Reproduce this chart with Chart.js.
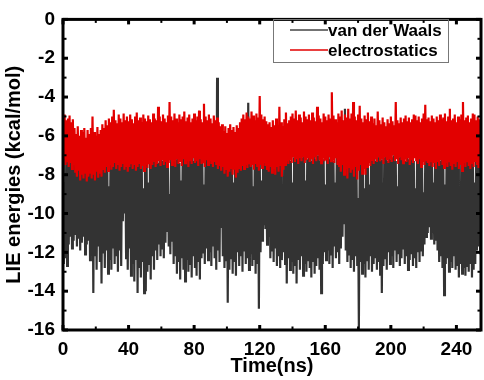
<!DOCTYPE html>
<html>
<head>
  <title>LIE energies vs time</title>
  <meta charset="utf-8" />
  <script src="https://cdn.jsdelivr.net/npm/chart.js"></script>
  <style>
    body { margin: 0; background: #fff; }
    #wrap { width: 484px; height: 380px; }
  </style>
</head>
<body>
  <div id="wrap"><canvas id="lieChart"></canvas></div>

  <script>
    const seriesLabels = ['van der Waals', 'electrostatics'];
    const xTickValues = [0, 40, 80, 120, 160, 200, 240];
    const xMinorValues = [20, 60, 100, 140, 180, 220];
    const yTickValues = [0, -2, -4, -6, -8, -10, -12, -14, -16];
    const yMinorValues = [-1, -3, -5, -7, -9, -11, -13, -15];

    // per-ns upper / lower excursions (kcal/mol)
    const vdwHi = [
      -7.1,-8.4,-7.0,-7.3,-6.9,-7.2,-7.5,-7.0,-7.4,-6.8,-7.3,-7.1,-7.6,-7.0,-7.2,-7.4,
      -6.9,-7.3,-7.1,-7.5,-7.0,-7.2,-6.8,-7.4,-7.1,-7.3,-7.0,-7.2,-8.6,-7.1,-6.9,-7.3,
      -7.0,-7.2,-7.4,-6.9,-7.1,-7.3,-7.0,-7.5,-7.2,-6.8,-7.1,-7.3,-7.0,-7.2,-7.4,-7.1,
      -7.0,-8.7,-7.2,-7.1,-8.4,-7.0,-7.3,-6.9,-7.2,-7.0,-7.4,-7.1,-6.9,-7.3,-7.0,-7.2,
      -7.1,-9.0,-7.0,-7.3,-6.9,-7.2,-7.0,-7.4,-8.3,-7.1,-7.0,-7.3,-6.9,-7.2,-7.1,-7.0,
      -7.3,-7.0,-7.2,-6.9,-7.1,-7.4,-8.5,-7.0,-7.2,-7.1,-6.9,-7.3,-7.0,-7.2,-3.0,-7.1,
      -7.3,-7.0,-7.2,-7.4,-7.1,-6.9,-7.3,-7.0,-8.4,-7.2,-7.1,-7.3,-7.0,-6.9,-7.2,-7.1,
      -7.0,-4.3,-7.2,-7.1,-8.6,-7.0,-7.3,-6.9,-7.1,-8.3,-7.0,-7.2,-7.4,-7.1,-7.0,-7.3,
      -7.1,-7.4,-7.0,-7.2,-7.3,-7.0,-8.8,-7.1,-6.9,-7.2,-7.0,-7.3,-8.4,-7.1,-6.9,-7.2,
      -7.0,-7.3,-7.1,-6.9,-8.3,-7.2,-7.0,-7.1,-7.3,-6.9,-7.2,-7.0,-7.1,-7.3,-7.0,-7.2,
      -8.5,-7.1,-7.0,-7.2,-6.9,-7.3,-8.4,-7.1,-7.0,-7.2,-7.3,-7.0,-4.6,-7.1,-7.2,-7.0,
      -7.3,-7.1,-7.0,-7.2,-9.2,-7.1,-7.0,-7.3,-8.7,-7.1,-7.0,-8.5,-7.2,-7.1,-7.0,-7.3,
      -7.1,-7.0,-7.2,-8.4,-7.1,-6.9,-7.3,-7.0,-7.2,-7.1,-7.0,-7.3,-8.6,-7.1,-7.0,-7.2,
      -7.1,-7.3,-7.0,-7.2,-6.9,-7.1,-7.3,-8.7,-7.0,-7.2,-7.1,-7.0,-8.9,-7.2,-7.1,-7.0,
      -7.3,-7.1,-8.4,-7.0,-7.2,-7.1,-7.3,-7.0,-7.2,-8.5,-7.1,-7.0,-7.3,-7.1,-7.2,-7.0,
      -7.1,-7.3,-8.6,-7.0,-7.2,-7.1,-7.3,-7.0,-7.2,-7.1,-7.0,-8.4,-7.2,-7.1,-7.3,-7.0
    ];
    const vdwLo = [
      -12.6,-12.3,-12.7,-11.6,-11.2,-11.8,-11.4,-11.1,-11.7,-11.3,-11.9,-11.5,-11.2,-12.1,-11.6,-11.4,
      -12.4,-11.8,-14.1,-12.2,-12.9,-11.7,-12.5,-13.6,-12.0,-12.8,-11.9,-13.1,-12.4,-12.9,-11.8,-12.6,
      -12.2,-13.0,-11.9,-12.7,-10.4,-10.0,-12.3,-12.9,-11.8,-13.2,-12.6,-13.5,-12.4,-14.1,-12.8,-13.3,
      -12.5,-14.1,-14.0,-13.0,-12.6,-13.4,-12.2,-12.9,-11.9,-12.4,-11.6,-12.2,-11.8,-12.3,-11.5,-10.9,
      -11.7,-12.1,-11.4,-12.6,-12.2,-13.1,-12.5,-13.4,-12.3,-12.9,-13.5,-12.4,-13.0,-12.6,-13.3,-12.2,
      -12.8,-13.2,-12.5,-13.4,-12.3,-12.0,-12.6,-11.8,-12.4,-12.0,-12.7,-11.7,-12.3,-12.9,-11.9,-12.5,
      -10.75,-12.2,-12.8,-12.4,-14.6,-12.9,-12.3,-13.1,-12.5,-13.2,-12.0,-12.7,-12.2,-13.0,-11.9,-12.6,
      -12.3,-12.9,-12.1,-12.7,-12.4,-13.1,-12.6,-14.9,-12.0,-11.4,-10.6,-10.8,-11.6,-11.2,-12.3,-11.9,
      -12.5,-11.8,-12.7,-12.2,-12.8,-12.4,-12.0,-12.6,-13.6,-12.3,-12.9,-12.5,-13.1,-12.7,-13.6,-12.4,
      -12.9,-12.2,-13.2,-12.6,-13.0,-12.4,-12.8,-13.3,-12.5,-13.1,-12.7,-12.3,-12.9,-14.1,-12.6,-12.0,
      -12.4,-11.9,-12.6,-12.1,-12.8,-11.7,-12.3,-12.0,-12.6,-11.8,-11.2,-10.5,-11.9,-12.5,-12.1,-12.8,
      -12.4,-13.0,-12.2,-12.7,-16.0,-12.5,-13.1,-12.6,-13.3,-12.4,-12.9,-12.2,-13.0,-12.6,-12.3,-12.9,
      -12.5,-13.2,-14.1,-12.7,-12.3,-12.9,-12.0,-12.6,-12.2,-12.8,-11.9,-12.5,-12.1,-12.7,-12.3,-11.8,
      -12.6,-12.2,-12.9,-12.4,-12.1,-12.7,-12.3,-12.8,-12.0,-12.5,-11.9,-12.2,-11.6,-11.2,-11.0,-10.7,
      -11.3,-11.0,-11.6,-11.4,-11.9,-12.5,-12.2,-12.8,-14.2,-12.6,-12.3,-13.0,-12.5,-12.8,-12.2,-12.9,
      -12.7,-13.3,-12.6,-13.1,-12.8,-13.2,-12.7,-13.0,-12.6,-13.3,-12.9,-12.6,-11.9,-11.7,-12.1,-11.8
    ];
    const elecHi = [
      -5.0,-4.9,-5.2,-5.1,-4.95,-5.3,-5.15,-5.6,-5.9,-5.5,-6.0,-5.7,-5.8,-5.6,-6.1,-5.7,
      -5.9,-5.6,-5.0,-5.8,-6.0,-5.55,-5.9,-5.7,-5.4,-5.6,-5.2,-5.45,-5.1,-5.3,-5.0,-4.65,
      -5.2,-5.35,-4.9,-5.1,-5.3,-4.85,-5.2,-5.0,-5.25,-4.9,-5.15,-5.35,-5.0,-4.8,-5.2,-5.05,
      -5.3,-4.9,-5.1,-5.25,-4.95,-5.15,-5.3,-4.85,-5.1,-5.2,-4.5,-5.0,-5.25,-4.9,-5.1,-5.3,
      -4.95,-4.25,-5.0,-5.2,-4.85,-5.1,-5.3,-4.9,-5.15,-5.0,-4.75,-5.25,-5.05,-4.9,-5.3,-5.1,
      -4.85,-5.2,-5.0,-4.7,-5.15,-5.3,-4.35,-5.0,-5.2,-4.9,-5.1,-5.35,-4.95,-5.2,-5.05,-5.3,
      -5.5,-5.4,-5.75,-5.5,-5.85,-5.6,-5.4,-5.7,-5.55,-5.8,-5.45,-5.6,-5.3,-5.1,-4.9,-5.15,
      -4.8,-5.0,-5.1,-4.75,-4.95,-5.2,-4.85,-5.05,-3.95,-4.9,-5.15,-5.0,-5.25,-5.4,-5.3,-5.55,
      -5.2,-5.45,-5.1,-5.6,-4.5,-5.3,-5.5,-5.15,-4.8,-5.35,-5.2,-5.0,-4.85,-5.1,-4.7,-5.2,
      -4.9,-5.05,-5.3,-4.75,-5.0,-5.15,-4.9,-5.2,-4.8,-5.05,-5.25,-4.5,-4.95,-5.1,-5.3,-4.85,
      -5.0,-5.2,-4.9,-5.1,-3.75,-4.95,-5.15,-5.3,-4.85,-5.0,-4.7,-5.2,-4.9,-5.05,-4.6,-5.1,
      -4.85,-4.25,-5.0,-5.2,-4.9,-4.45,-5.1,-5.3,-4.95,-5.15,-4.8,-5.25,-5.0,-5.35,-5.1,-5.45,
      -4.75,-5.2,-5.4,-5.05,-5.3,-5.5,-5.15,-5.35,-5.0,-5.25,-5.45,-4.25,-5.2,-5.35,-5.05,-5.3,
      -5.1,-4.95,-5.25,-5.05,-5.3,-5.15,-4.9,-4.95,-5.2,-5.0,-5.3,-5.1,-4.85,-4.4,-5.15,-5.05,
      -5.25,-4.95,-5.1,-5.3,-5.0,-5.2,-4.9,-5.15,-5.05,-4.85,-5.25,-5.0,-4.6,-5.2,-5.1,-4.9,
      -5.3,-5.0,-5.15,-4.9,-4.25,-5.2,-5.05,-4.95,-5.3,-5.1,-4.85,-4.9,-5.2,-5.0,-5.15,-5.05
    ];
    const elecLo = [
      -7.2,-7.5,-7.3,-7.6,-7.4,-7.7,-7.5,-7.9,-8.1,-7.8,-8.3,-8.0,-8.2,-7.9,-8.35,-8.1,
      -7.9,-8.2,-8.0,-8.3,-7.85,-8.15,-7.95,-8.1,-7.7,-7.9,-7.6,-7.8,-7.5,-7.75,-7.6,-7.4,
      -7.7,-7.5,-7.8,-7.6,-7.45,-7.75,-7.55,-7.85,-7.6,-7.4,-7.7,-7.5,-7.8,-7.6,-7.45,-7.7,
      -7.55,-7.8,-7.5,-7.65,-7.4,-7.7,-7.5,-7.35,-7.6,-7.45,-7.3,-7.55,-7.2,-7.5,-7.35,-7.6,
      -7.4,-7.25,-7.5,-7.3,-7.6,-7.2,-7.45,-7.35,-7.55,-7.2,-7.4,-7.3,-7.6,-7.25,-7.45,-7.15,
      -7.4,-7.3,-7.55,-7.2,-7.45,-7.35,-7.6,-7.25,-7.5,-7.3,-7.45,-7.6,-7.35,-7.5,-7.7,-7.55,
      -7.8,-7.6,-7.95,-7.7,-8.1,-7.85,-7.65,-8.0,-7.75,-8.15,-7.9,-7.7,-7.8,-7.55,-7.7,-7.5,
      -7.65,-7.4,-7.6,-7.5,-7.75,-7.45,-7.6,-7.8,-7.5,-7.65,-7.4,-7.55,-7.7,-7.85,-7.6,-7.9,
      -7.7,-8.0,-7.6,-7.85,-7.55,-8.1,-7.75,-7.5,-7.3,-7.45,-7.2,-7.4,-7.1,-7.35,-7.2,-7.45,
      -7.15,-7.3,-7.05,-7.4,-7.25,-7.1,-7.35,-7.2,-7.45,-7.1,-7.3,-7.0,-7.25,-7.4,-7.15,-7.3,
      -7.2,-7.45,-7.1,-7.3,-7.25,-7.4,-7.15,-7.5,-7.6,-7.85,-7.5,-8.0,-7.7,-8.2,-7.6,-7.9,
      -7.75,-8.1,-7.6,-8.25,-7.8,-7.5,-7.95,-7.7,-8.0,-7.6,-7.4,-7.55,-7.3,-7.45,-7.2,-7.35,
      -7.1,-7.3,-7.2,-7.45,-7.05,-7.25,-7.4,-7.15,-7.35,-7.0,-7.3,-7.2,-7.45,-7.1,-7.25,-7.4,
      -7.2,-7.35,-7.1,-7.5,-7.25,-7.4,-7.15,-7.3,-7.45,-7.2,-7.6,-7.35,-7.5,-7.25,-7.4,-7.55,
      -7.3,-7.6,-7.4,-7.7,-7.35,-7.55,-7.25,-7.5,-7.65,-7.4,-7.6,-7.3,-7.55,-7.75,-7.45,-7.6,
      -7.35,-7.7,-7.5,-7.8,-7.4,-7.6,-7.3,-7.55,-7.7,-7.45,-7.6,-7.35,-7.5,-7.65,-7.4,-7.55
    ];

    // trace goes up to the high value, then down to the low one, every ns
    function zigzag(hi, lo) {
      const pts = [];
      hi.forEach((h, i) => {
        pts.push({ x: i, y: h });
        pts.push({ x: i + 0.5, y: lo[i] });
      });
      return pts;
    }

    const FONT = '"Liberation Sans", Arial, sans-serif';

    // thick frame with inward ticks on all four sides
    const framePlugin = {
      id: 'frame',
      afterDatasetsDraw(chart) {
        const { ctx, chartArea: a, scales: { x, y } } = chart;
        ctx.save();
        ctx.strokeStyle = '#000';
        ctx.lineWidth = 3;
        ctx.strokeRect(a.left, a.top, a.right - a.left, a.bottom - a.top);
        const tick = (px, py, dx, dy, w) => {
          ctx.lineWidth = w;
          ctx.beginPath();
          ctx.moveTo(px, py);
          ctx.lineTo(px + dx, py + dy);
          ctx.stroke();
        };
        xTickValues.forEach(v => {
          const p = x.getPixelForValue(v);
          tick(p, a.bottom, 0, -5, 3);
          tick(p, a.top, 0, 5, 3);
        });
        xMinorValues.forEach(v => {
          const p = x.getPixelForValue(v);
          tick(p, a.bottom, 0, -3.5, 2);
          tick(p, a.top, 0, 3.5, 2);
        });
        yTickValues.forEach(v => {
          const p = y.getPixelForValue(v);
          tick(a.left, p, 5, 0, 3);
          tick(a.right, p, -5, 0, 3);
        });
        yMinorValues.forEach(v => {
          const p = y.getPixelForValue(v);
          tick(a.left, p, 3.5, 0, 2);
          tick(a.right, p, -3.5, 0, 2);
        });
        ctx.restore();
      }
    };

    // boxed legend inside the plot, top right
    const legendPlugin = {
      id: 'boxLegend',
      afterDraw(chart) {
        const { ctx } = chart;
        ctx.save();
        ctx.strokeStyle = '#777';
        ctx.lineWidth = 1;
        ctx.strokeRect(273.5, 19.5, 175, 43);
        ctx.font = 'bold 17px ' + FONT;
        ctx.textBaseline = 'middle';
        ctx.fillStyle = '#000';
        chart.data.datasets.forEach((ds, i) => {
          const yy = 30 + i * 20;
          ctx.strokeStyle = ds.legendColor;
          ctx.lineWidth = 1.5;
          ctx.beginPath();
          ctx.moveTo(290, yy);
          ctx.lineTo(328, yy);
          ctx.stroke();
          ctx.fillText(ds.label, 328, yy + 1);
        });
        ctx.restore();
      }
    };

    const ctx = document.getElementById('lieChart').getContext('2d');
    new Chart(ctx, {
      type: 'line',
      data: {
        datasets: [{
          label: seriesLabels[0],
          data: zigzag(vdwHi, vdwLo),
          borderColor: '#333333',
          legendColor: '#444444',
          borderWidth: 2.2,
          order: 2
        }, {
          label: seriesLabels[1],
          data: zigzag(elecHi, elecLo),
          borderColor: 'rgb(226,0,0)',
          legendColor: 'rgb(226,0,0)',
          borderWidth: 2.2,
          order: 1
        }]
      },
      options: {
        responsive: true,
        maintainAspectRatio: false,
        animation: false,
        normalized: true,
        layout: { padding: { top: 10, right: 3, left: 0, bottom: 0 } },
        elements: { point: { radius: 0 }, line: { tension: 0, borderJoinStyle: 'miter' } },
        plugins: { legend: { display: false }, tooltip: { enabled: false } },
        scales: {
          x: {
            type: 'linear',
            min: 0,
            max: 255,
            grid: { display: false, drawTicks: false },
            border: { display: false },
            afterBuildTicks: s => { s.ticks = xTickValues.map(v => ({ value: v })); },
            afterFit: s => { s.height = 50; },
            ticks: {
              padding: 8,
              maxRotation: 0,
              color: '#000',
              font: { family: FONT, size: 19, weight: 'bold' }
            },
            title: {
              display: true,
              text: 'Time(ns)',
              color: '#000',
              padding: { top: 0, bottom: 2 },
              font: { family: FONT, size: 20, weight: 'bold' }
            }
          },
          y: {
            min: -16,
            max: 0,
            grid: { display: false, drawTicks: false },
            border: { display: false },
            afterBuildTicks: s => { s.ticks = yTickValues.map(v => ({ value: v })); },
            afterFit: s => { s.width = 63; },
            ticks: {
              padding: 8,
              color: '#000',
              font: { family: FONT, size: 19, weight: 'bold' }
            },
            title: {
              display: true,
              text: 'LIE energies (kcal/mol)',
              color: '#000',
              padding: { top: 2, bottom: 0 },
              font: { family: FONT, size: 20, weight: 'bold' }
            }
          }
        }
      },
      plugins: [framePlugin, legendPlugin]
    });
  </script>
</body>
</html>
